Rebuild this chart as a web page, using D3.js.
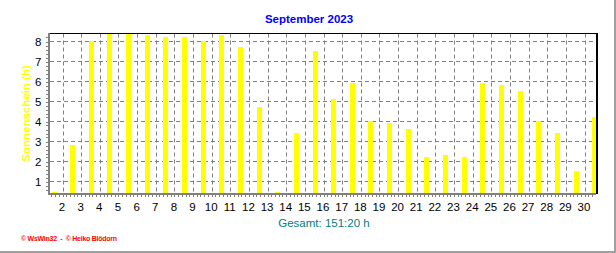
<!DOCTYPE html>
<html>
<head>
<meta charset="utf-8">
<script src="https://cdn.jsdelivr.net/npm/d3@7"></script>
<style>
  body { margin: 0; background: #fff; }
  text { font-family: Arial, "Liberation Sans", sans-serif; }
</style>
</head>
<body>
<div class="chart"></div>
<script>
// sunshine hours per day, September 2023
const days = d3.range(1, 31)
const sunshine = [0, 2.8, 8.0, 8.4, 8.4, 8.3, 8.2, 8.2, 8.0, 8.3,
                  7.7, 4.7, 0, 3.4, 7.5, 5.1, 5.9, 4.0, 3.9, 3.6,
                  2.2, 2.3, 2.2, 5.9, 5.8, 5.5, 4.0, 3.4, 1.5, 4.2]
const xTicks = d3.range(2, 31)
const yTicks = [1, 2, 3, 4, 5, 6, 7, 8]
const title = 'September 2023'
const yLabel = 'Sonnenschein (h)'
const total = 'Gesamt: 151:20 h'
const footer = '\u00a9 WsWin32  -  \u00a9 Heiko Blödorn'

const data = days.map((d, i) => ({day: d, value: sunshine[i]}))

const W = 616, H = 253
const plot = {left: 49, right: 597, top: 33.5, bottom: 193.5}

const svg = d3.select('.chart').append('svg')
    .attr('width', W)
    .attr('height', H)

// outer frame (right + bottom grey edge)
svg.append('line').attr('x1', 615).attr('x2', 615).attr('y1', 0).attr('y2', H)
    .attr('stroke', '#a0a0a0').attr('stroke-width', 2)
svg.append('line').attr('x1', 0).attr('x2', W).attr('y1', 252).attr('y2', 252)
    .attr('stroke', '#a0a0a0').attr('stroke-width', 2)

const xScale = d3.scaleLinear()
    .domain([1.275, 30.67])
    .range([plot.left, plot.right])

const yScale = d3.scaleLinear()
    .domain([0.4, 8.4])
    .range([plot.bottom, plot.top])

const px = v => Math.round(xScale(v)) + 0.5

// grid
svg.append('g').selectAll('line')
    .data(yTicks)
    .enter()
    .append('line')
    .attr('x1', plot.left + 1).attr('x2', plot.right)
    .attr('y1', d => yScale(d)).attr('y2', d => yScale(d))
    .attr('stroke', '#808080')
    .attr('stroke-dasharray', '4,3')

svg.append('g').selectAll('line')
    .data(xTicks)
    .enter()
    .append('line')
    .attr('x1', d => px(d)).attr('x2', d => px(d))
    .attr('y1', plot.top).attr('y2', plot.bottom)
    .attr('stroke', '#808080')
    .attr('stroke-dasharray', '4,3')

// bars
svg.append('g').selectAll('rect')
    .data(data)
    .enter()
    .append('rect')
    .attr('x', d => Math.round(xScale(d.day + 0.52)) - 2.5 + 0.5)
    .attr('width', 5)
    .attr('y', d => Math.min(yScale(Math.max(d.value, 0.4)) - 0.5, 192))
    .attr('height', d => Math.max(1, 193 - (yScale(Math.max(d.value, 0.4)) - 0.5)))
    .attr('fill', '#ffff00')

// frame: top + right black
svg.append('line').attr('x1', plot.left).attr('x2', plot.right + 1)
    .attr('y1', plot.top).attr('y2', plot.top)
    .attr('stroke', '#000')
svg.append('line').attr('x1', plot.right).attr('x2', plot.right)
    .attr('y1', plot.top).attr('y2', 194)
    .attr('stroke', '#000').attr('stroke-width', 2)

// minor + major ticks
const xMinor = d3.range(1.4, 30.6, 0.2)
svg.append('g').selectAll('line')
    .data(xMinor)
    .enter()
    .append('line')
    .attr('x1', d => px(d)).attr('x2', d => px(d))
    .attr('y1', 195).attr('y2', 197)
    .attr('stroke', '#808080')

const yMinor = d3.range(0.6, 8.4, 0.2)
svg.append('g').selectAll('line')
    .data(yMinor)
    .enter()
    .append('line')
    .attr('x1', 46).attr('x2', 48)
    .attr('y1', d => Math.round(yScale(d)) + 0.5).attr('y2', d => Math.round(yScale(d)) + 0.5)
    .attr('stroke', '#808080')

// axes (thick grey)
svg.append('line').attr('x1', 49).attr('x2', 49)
    .attr('y1', plot.top - 0.5).attr('y2', 195)
    .attr('stroke', '#808080').attr('stroke-width', 2)
svg.append('line').attr('x1', 48).attr('x2', plot.right - 1)
    .attr('y1', 194).attr('y2', 194)
    .attr('stroke', '#808080').attr('stroke-width', 2)

// tick labels
svg.append('g').selectAll('text')
    .data(xTicks)
    .enter()
    .append('text')
    .attr('x', d => xScale(d) - 0.5)
    .attr('y', 211)
    .attr('text-anchor', 'middle')
    .attr('font-size', '11.5px')
    .attr('fill', '#000')
    .text(d => d)

svg.append('g').selectAll('text')
    .data(yTicks)
    .enter()
    .append('text')
    .attr('x', 41.5)
    .attr('y', d => yScale(d) + 4)
    .attr('text-anchor', 'end')
    .attr('font-size', '11.5px')
    .attr('fill', '#000')
    .text(d => d)

// titles
svg.append('text')
    .attr('x', 309).attr('y', 23)
    .attr('text-anchor', 'middle')
    .attr('font-size', '11.5px')
    .attr('font-weight', 'bold')
    .attr('fill', '#0000ff')
    .text(title)

svg.append('text')
    .attr('transform', 'translate(29.5,113.5) rotate(-90)')
    .attr('text-anchor', 'middle')
    .attr('font-size', '11.5px')
    .attr('font-weight', 'bold')
    .attr('fill', '#ffff00')
    .attr('xml:space', 'preserve')
    .text(yLabel)

svg.append('text')
    .attr('x', 324).attr('y', 227)
    .attr('text-anchor', 'middle')
    .attr('font-size', '11.5px')
    .attr('fill', '#008080')
    .text(total)

svg.append('text')
    .attr('x', 21).attr('y', 241)
    .attr('font-size', '7px')
    .attr('font-weight', 'bold')
    .attr('fill', '#ff0000')
    .attr('textLength', 96)
    .attr('xml:space', 'preserve')
    .text(footer)
</script>
</body>
</html>
